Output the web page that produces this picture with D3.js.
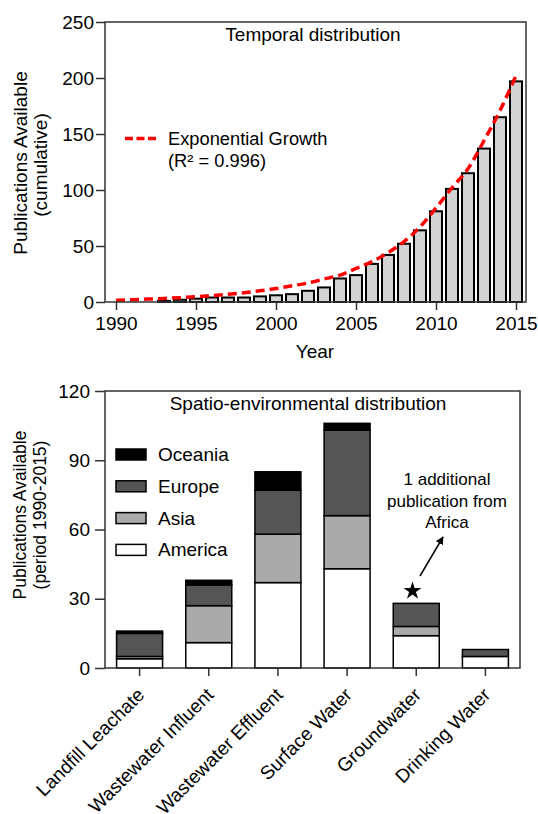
<!DOCTYPE html>
<html>
<head>
<meta charset="utf-8">
<script src="https://cdn.jsdelivr.net/npm/d3@7"></script>
<style>
  html, body { margin: 0; padding: 0; background: #fff; }
  svg { display: block; }
  text { font-family: "Liberation Sans", Arial, Helvetica, sans-serif; fill: #000; }
</style>
</head>
<body>
<svg id="chart" width="538" height="814"></svg>
<script>
// ---- Temporal distribution (cumulative publications per year) ----
const years = [1990, 1991, 1992, 1993, 1994, 1995, 1996, 1997, 1998, 1999,
               2000, 2001, 2002, 2003, 2004, 2005, 2006, 2007, 2008, 2009,
               2010, 2011, 2012, 2013, 2014, 2015];
const cumulativePubs = [0, 0, 0, 1, 2, 3, 4, 4, 4, 5,
                        6, 7, 10, 13, 21, 24, 34, 42, 52, 64,
                        81, 101, 115, 137, 165, 197];
const exponentialFit = [1.5, 2, 2.6, 3.2, 3.9, 4.7, 5.7, 6.9, 8.3, 10,
                        12, 14.5, 17, 20.5, 24, 30, 36, 44, 54, 67,
                        84, 102, 119, 144, 171, 202];
const yearTicks = [1990, 1995, 2000, 2005, 2010, 2015];
const cumulativeTicks = [0, 50, 100, 150, 200, 250];

// ---- Spatio-environmental distribution (1990-2015) ----
const sites = ["Landfill Leachate", "Wastewater Influent", "Wastewater Effluent",
               "Surface Water", "Groundwater", "Drinking Water"];
const america = [4, 11, 37, 43, 14, 5];
const asia    = [1, 16, 21, 23, 4, 0];
const europe  = [10, 9, 19, 37, 10, 3];
const oceania = [1, 2, 8, 3, 0, 0];
const regions = ["America", "Asia", "Europe", "Oceania"];
const regionTicks = [0, 30, 60, 90, 120];

const FONT = 19;
const AXIS = "#333";
const svg = d3.select("#chart");

// ================= Top panel =================
const topBox = { l: 105, r: 526, t: 22, b: 302 };
const xYear = d3.scaleLinear().domain([1989.3125, 2015.625]).range([topBox.l, topBox.r]);
const yCum = d3.scaleLinear().domain([0, 250]).range([topBox.b, topBox.t]);

const gTop = svg.append("g");

// bars
const yearData = years.map((y, i) => ({ year: y, value: cumulativePubs[i], fit: exponentialFit[i] }));
gTop.selectAll("rect.bar")
  .data(yearData.filter(d => d.value > 0))
  .join("rect")
  .attr("class", "bar")
  .attr("x", d => xYear(d.year) - 6)
  .attr("width", 12)
  .attr("y", d => yCum(d.value))
  .attr("height", d => yCum(0) - yCum(d.value))
  .attr("fill", "#d3d3d3")
  .attr("stroke", "#000")
  .attr("stroke-width", 2);

// exponential growth curve
gTop.append("path")
  .datum(yearData)
  .attr("fill", "none")
  .attr("stroke", "#ff0000")
  .attr("stroke-width", 3.5)
  .attr("stroke-dasharray", "9,5")
  .attr("d", d3.line().x(d => xYear(d.year)).y(d => yCum(d.fit)).curve(d3.curveMonotoneX));

// frame
gTop.append("rect")
  .attr("x", topBox.l).attr("y", topBox.t)
  .attr("width", topBox.r - topBox.l).attr("height", topBox.b - topBox.t)
  .attr("fill", "none").attr("stroke", AXIS).attr("stroke-width", 1.5);

// axes
const axTopY = gTop.append("g").attr("transform", `translate(${topBox.l},0)`)
  .call(d3.axisLeft(yCum).tickValues(cumulativeTicks).tickSize(9).tickPadding(2).tickSizeOuter(0));
const axTopX = gTop.append("g").attr("transform", `translate(0,${topBox.b})`)
  .call(d3.axisBottom(xYear).tickValues(yearTicks).tickFormat(d3.format("d")).tickSize(8).tickPadding(7).tickSizeOuter(0));
[axTopY, axTopX].forEach(a => {
  a.select(".domain").remove();
  a.selectAll(".tick line").attr("stroke", AXIS).attr("stroke-width", 1.5);
  a.selectAll(".tick text").attr("font-size", FONT).attr("font-family", null);
});

gTop.append("text").attr("x", 313).attr("y", 41).attr("text-anchor", "middle")
  .attr("font-size", FONT).text("Temporal distribution");
gTop.append("text").attr("x", 315).attr("y", 358).attr("text-anchor", "middle")
  .attr("font-size", FONT).text("Year");
gTop.append("text").attr("transform", "translate(27,163) rotate(-90)").attr("text-anchor", "middle")
  .attr("font-size", 19).text("Publications Available");
gTop.append("text").attr("transform", "translate(47,165) rotate(-90)").attr("text-anchor", "middle")
  .attr("font-size", 19).text("(cumulative)");

// legend
gTop.append("line").attr("x1", 125).attr("x2", 157).attr("y1", 138.5).attr("y2", 138.5)
  .attr("stroke", "#ff0000").attr("stroke-width", 3.5).attr("stroke-dasharray", "8,3.5");
gTop.append("text").attr("x", 168).attr("y", 145).attr("font-size", 18.3).text("Exponential Growth");
gTop.append("text").attr("x", 168).attr("y", 167).attr("font-size", 18.3).text("(R² = 0.996)");

// ================= Bottom panel =================
const botBox = { l: 105, r: 520, t: 391, b: 668 };
const xSite = d3.scaleBand().domain(sites).range([botBox.l, botBox.r]).paddingInner(0.335).paddingOuter(0.1675);
const yReg = d3.scaleLinear().domain([0, 120]).range([botBox.b, botBox.t]);
const regionColor = d3.scaleOrdinal().domain(regions).range(["#ffffff", "#aaaaaa", "#555555", "#000000"]);

const siteRows = sites.map((s, i) => ({
  site: s, America: america[i], Asia: asia[i], Europe: europe[i], Oceania: oceania[i]
}));
const stacked = d3.stack().keys(regions)(siteRows);

const gBot = svg.append("g");
gBot.selectAll("g.layer")
  .data(stacked)
  .join("g")
  .attr("class", "layer")
  .attr("fill", d => regionColor(d.key))
  .selectAll("rect")
  .data(d => d.filter(p => p[1] - p[0] > 0))
  .join("rect")
  .attr("x", d => xSite(d.data.site))
  .attr("width", xSite.bandwidth())
  .attr("y", d => yReg(d[1]))
  .attr("height", d => yReg(d[0]) - yReg(d[1]))
  .attr("stroke", "#000")
  .attr("stroke-width", 1.5);

gBot.append("rect")
  .attr("x", botBox.l).attr("y", botBox.t)
  .attr("width", botBox.r - botBox.l).attr("height", botBox.b - botBox.t)
  .attr("fill", "none").attr("stroke", AXIS).attr("stroke-width", 1.5);

const axBotY = gBot.append("g").attr("transform", `translate(${botBox.l},0)`)
  .call(d3.axisLeft(yReg).tickValues(regionTicks).tickSize(10).tickPadding(5).tickSizeOuter(0));
const axBotX = gBot.append("g").attr("transform", `translate(0,${botBox.b})`)
  .call(d3.axisBottom(xSite).tickSize(8).tickSizeOuter(0));
[axBotY, axBotX].forEach(a => {
  a.select(".domain").remove();
  a.selectAll(".tick line").attr("stroke", AXIS).attr("stroke-width", 1.5);
  a.selectAll(".tick text").attr("font-size", FONT).attr("font-family", null);
});
axBotX.selectAll(".tick text")
  .attr("text-anchor", "end")
  .attr("x", null).attr("y", null).attr("dy", null)
  .attr("transform", "translate(6,28) rotate(-45)");

gBot.append("text").attr("x", 308).attr("y", 410).attr("text-anchor", "middle")
  .attr("font-size", FONT).text("Spatio-environmental distribution");
gBot.append("text").attr("transform", "translate(26,515) rotate(-90)").attr("text-anchor", "middle")
  .attr("font-size", 17.5).text("Publications Available");
gBot.append("text").attr("transform", "translate(46,515) rotate(-90)").attr("text-anchor", "middle")
  .attr("font-size", 17.5).text("(period 1990-2015)");

// legend (top entry first)
const legendOrder = ["Oceania", "Europe", "Asia", "America"];
const leg = gBot.selectAll("g.legend").data(legendOrder).join("g")
  .attr("class", "legend")
  .attr("transform", (d, i) => `translate(116,${449 + i * 31.8})`);
leg.append("rect").attr("width", 30).attr("height", 11)
  .attr("fill", d => regionColor(d)).attr("stroke", "#000").attr("stroke-width", 1.5);
leg.append("text").attr("x", 42).attr("y", 12).attr("font-size", FONT).text(d => d);

// note on the groundwater bar
const note = ["1 additional", "publication from", "Africa"];
gBot.selectAll("text.note").data(note).join("text")
  .attr("class", "note")
  .attr("x", 447).attr("y", (d, i) => 485 + i * 21.7)
  .attr("text-anchor", "middle").attr("font-size", 17).text(d => d);

svg.append("defs").append("marker")
  .attr("id", "arrowhead").attr("viewBox", "0 0 10 10")
  .attr("refX", 9).attr("refY", 5)
  .attr("markerWidth", 8).attr("markerHeight", 8)
  .attr("markerUnits", "userSpaceOnUse")
  .attr("orient", "auto")
  .append("path").attr("d", "M0,0 L10,5 L0,10 Z").attr("fill", "#000");
gBot.append("line")
  .attr("x1", 420).attr("y1", 576).attr("x2", 443).attr("y2", 537)
  .attr("stroke", "#000").attr("stroke-width", 1.5)
  .attr("marker-end", "url(#arrowhead)");

gBot.append("path")
  .attr("transform", "translate(412.5,591)")
  .attr("d", d3.symbol(d3.symbolStar, 100)())
  .attr("fill", "#000");
</script>
</body>
</html>
